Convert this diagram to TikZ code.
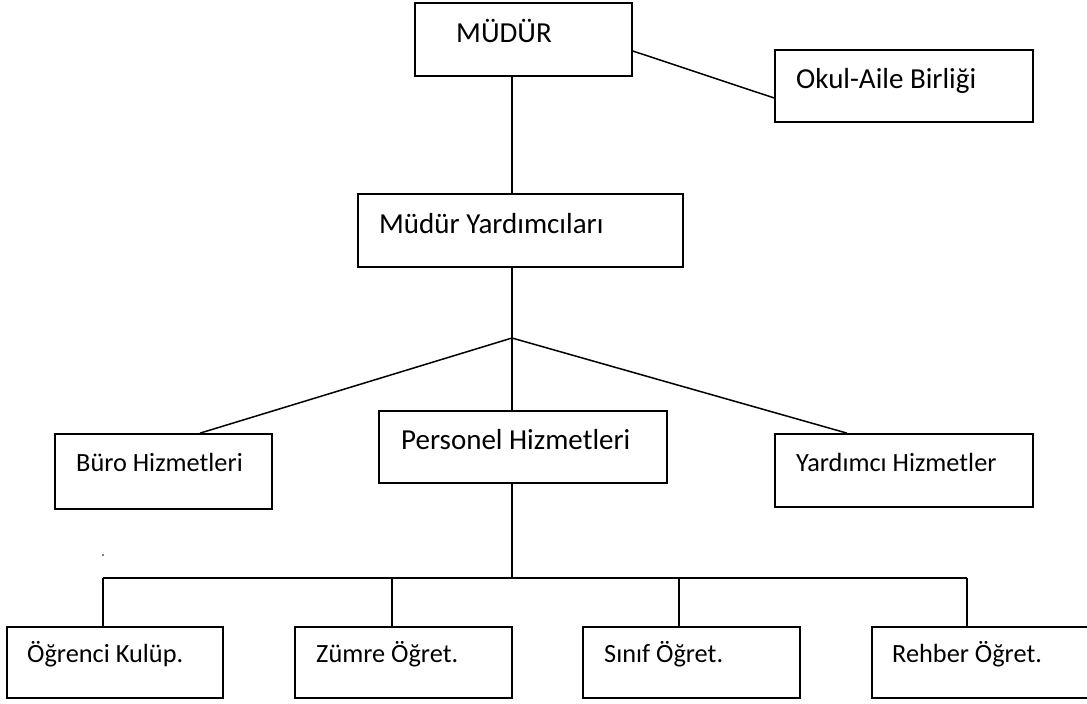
\documentclass[tikz,border=0pt]{standalone}
\usepackage{fontspec}
\setmainfont{Carlito}
\begin{document}
\begin{tikzpicture}[x=1pt,y=-1pt,
  box/.style={draw=black,line width=1.7pt,fill=white,inner sep=0pt,rectangle},
  conn/.style={draw=black,line width=1.5pt},
  bigtxt/.style={anchor=base west,inner sep=0pt,font=\fontsize{29}{35}\selectfont},
  smalltxt/.style={anchor=base west,inner sep=0pt,font=\fontsize{26.3}{32}\selectfont}]
\useasboundingbox (0,0) rectangle (1087,704);
\clip (0,0) rectangle (1087,704);
\fill[white] (0,0) rectangle (1087,704);
% boxes
\node[box,minimum width=217pt,minimum height=73pt] (mudur) at (523.5,39.5) {};
\node[box,minimum width=258pt,minimum height=72pt] (okul) at (904,86) {};
\node[box,minimum width=325pt,minimum height=73pt] (myard) at (520.5,230.5) {};
\node[box,minimum width=217pt,minimum height=75pt] (buro) at (163.5,471.5) {};
\node[box,minimum width=288pt,minimum height=72pt] (pers) at (523,447) {};
\node[box,minimum width=258pt,minimum height=73pt] (yard) at (904,470.5) {};
\node[box,minimum width=216pt,minimum height=71pt] (ogr) at (115,662.5) {};
\node[box,minimum width=217pt,minimum height=71pt] (zum) at (403.5,662.5) {};
\node[box,minimum width=217pt,minimum height=71pt] (sin) at (691.5,662.5) {};
\node[box,minimum width=217pt,minimum height=71pt] (reh) at (980.5,662.5) {};
% labels
\node[bigtxt] (tmudur) at (456,42) {MÜDÜR};
\node[bigtxt] (tokul) at (796,88) {Okul-Aile Birliği};
\node[bigtxt] (tmyard) at (379,233) {Müdür Yardımcıları};
\node[smalltxt] (tburo) at (76,471) {Büro Hizmetleri};
\node[bigtxt] (tpers) at (401,449) {Personel Hizmetleri};
\node[smalltxt] (tyard) at (796,471) {Yardımcı Hizmetler};
\node[smalltxt] (togr) at (27,662) {Öğrenci Kulüp.};
\node[smalltxt] (tzum) at (316,662) {Zümre Öğret.};
\node[smalltxt] (tsin) at (604,662) {Sınıf Öğret.};
\node[smalltxt] (treh) at (892,662) {Rehber Öğret.};
% junctions
\coordinate (j1) at (512,338);
\coordinate (j2) at (512,578);
\coordinate (b1) at (103,578);
\coordinate (b2) at (392,578);
\coordinate (b3) at (679,578);
\coordinate (b4) at (967,578);
% connectors
\draw[conn] ([yshift=-11.5pt]mudur.east) -- ([yshift=-12pt]okul.west);
\draw[conn] (mudur.south -| j1) -- (myard.north -| j1);
\draw[conn] (myard.south -| j1) -- (j1);
\draw[conn] (j1) -- ([xshift=36.5pt]buro.north);
\draw[conn] (j1) -- (pers.north -| j1);
\draw[conn] (j1) -- ([xshift=-57pt]yard.north);
\draw[conn] (pers.south -| j2) -- (j2);
\draw[conn] (b1) -- (b4);
\draw[conn] (b1) -- (b1 |- ogr.north);
\draw[conn] (b2) -- (b2 |- zum.north);
\draw[conn] (b3) -- (b3 |- sin.north);
\draw[conn] (b4) -- (b4 |- reh.north);
% stray dot
\fill[black] (103,555) circle (0.8);
\end{tikzpicture}
\end{document}
